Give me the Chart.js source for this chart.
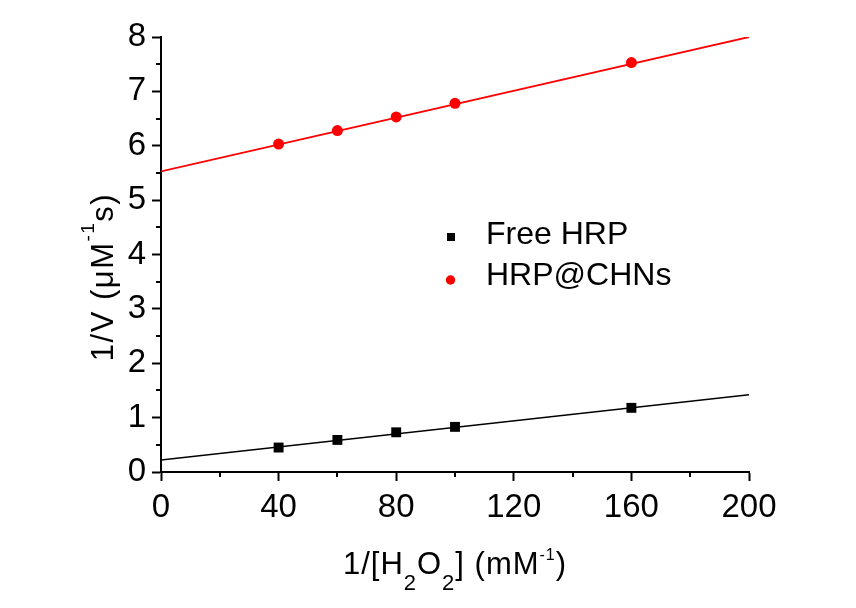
<!DOCTYPE html>
<html>
<head>
<meta charset="utf-8">
<script src="https://cdn.jsdelivr.net/npm/chart.js@4"></script>
<style>
  body { margin: 0; background: #fff; }
</style>
</head>
<body>
<canvas id="chart" width="856" height="608"></canvas>
<script>
const concentrations = [40, 60, 80, 100, 160];
const freeHRP = [0.45, 0.59, 0.73, 0.83, 1.18];
const hrpCHNs = [6.03, 6.28, 6.53, 6.78, 7.53];

// linear fit lines, end points
const fitX = [0, 200];
const fitFree = [0.22, 1.42];
const fitCHNs = [5.53, 8.0];

const seriesNames = ['Free HRP', 'HRP@CHNs'];
const xTicks = [0, 40, 80, 120, 160, 200];
const yTicks = [0, 1, 2, 3, 4, 5, 6, 7, 8];
const xMinor = [20, 60, 100, 140, 180];
const yMinor = [0.5, 1.5, 2.5, 3.5, 4.5, 5.5, 6.5, 7.5];

const FONT = '"Liberation Sans", Arial, sans-serif';

function pts(xs, ys) {
    return xs.map((x, i) => ({ x: x, y: ys[i] }));
}

// draw a string made of normal / sub / sup pieces, centred on x
function drawRich(ctx, parts, x, y, opt) {
    const fontFor = t => (t === 'n' ? opt.main : t === 'sub' ? opt.sub : opt.sup) + 'px ' + FONT;
    ctx.letterSpacing = opt.spacing + 'px';
    let total = 0;
    parts.forEach(p => {
        ctx.font = fontFor(p[1]);
        total += ctx.measureText(p[0]).width;
    });
    let cx = x - total / 2;
    parts.forEach(p => {
        ctx.font = fontFor(p[1]);
        let dy = 0;
        if (p[1] === 'sub') dy = opt.subDy;
        if (p[1] === 'sup') dy = opt.supDy;
        ctx.fillText(p[0], cx, y + dy);
        cx += ctx.measureText(p[0]).width;
    });
    ctx.letterSpacing = '0px';
}

const extras = {
    id: 'extras',
    afterDraw(chart) {
        const ctx = chart.ctx;
        const xs = chart.scales.x;
        const ys = chart.scales.y;
        const area = chart.chartArea;
        ctx.save();
        // minor ticks
        ctx.strokeStyle = '#000';
        ctx.lineWidth = 2;
        ctx.beginPath();
        xMinor.forEach(v => {
            const px = Math.round(xs.getPixelForValue(v));
            ctx.moveTo(px, area.bottom);
            ctx.lineTo(px, area.bottom + 5);
        });
        yMinor.forEach(v => {
            const py = Math.round(ys.getPixelForValue(v));
            ctx.moveTo(area.left, py);
            ctx.lineTo(area.left - 5, py);
        });
        ctx.stroke();

        // axis titles
        ctx.fillStyle = '#000';
        ctx.textBaseline = 'alphabetic';
        ctx.textAlign = 'left';
        drawRich(ctx, [['1/[H', 'n'], ['2', 'sub'], ['O', 'n'], ['2', 'sub'], ['] (mM', 'n'], ['-1', 'sup'], [')', 'n']],
            (area.left + area.right) / 2, 574,
            { main: 31, sub: 22, sup: 16, subDy: 16, supDy: -14, spacing: 1 });
        ctx.save();
        ctx.translate(113, 277);
        ctx.rotate(-Math.PI / 2);
        drawRich(ctx, [['1/V (\u03bcM', 'n'], ['-1', 'sup'], ['s)', 'n']], 0, 0,
            { main: 31, sub: 22, sup: 19, subDy: 16, supDy: -19, spacing: 1.5 });
        ctx.restore();

        // legend
        ctx.font = '32px ' + FONT;
        ctx.textBaseline = 'alphabetic';
        ctx.fillStyle = '#000';
        ctx.fillRect(447, 233, 8, 8);
        ctx.fillText(seriesNames[0], 486, 244);
        ctx.fillStyle = '#ff0000';
        ctx.beginPath();
        ctx.arc(450.5, 280, 4.7, 0, Math.PI * 2);
        ctx.fill();
        ctx.fillStyle = '#000';
        ctx.fillText(seriesNames[1], 486, 285);
        ctx.restore();
    }
};

const chartConfig = {
    type: 'scatter',
    data: {
        datasets: [
            {
                label: 'fit free',
                data: pts(fitX, fitFree),
                showLine: true,
                borderColor: '#000',
                borderWidth: 1.5,
                pointRadius: 0
            },
            {
                label: 'fit chns',
                data: pts(fitX, fitCHNs),
                showLine: true,
                borderColor: '#ff0000',
                borderWidth: 1.8,
                pointRadius: 0
            },
            {
                label: seriesNames[0],
                data: pts(concentrations, freeHRP),
                pointStyle: 'rect',
                pointRadius: 7,
                backgroundColor: '#000',
                borderColor: '#000',
                borderWidth: 0
            },
            {
                label: seriesNames[1],
                data: pts(concentrations, hrpCHNs),
                pointStyle: 'circle',
                pointRadius: 5.5,
                backgroundColor: '#ff0000',
                borderColor: '#ff0000',
                borderWidth: 0
            }
        ]
    },
    options: {
        responsive: false,
        animation: false,
        layout: { padding: { left: 0, right: 107, top: 37, bottom: 0 } },
        plugins: {
            legend: { display: false },
            tooltip: { enabled: false }
        },
        scales: {
            x: {
                type: 'linear',
                min: 0,
                max: 200,
                afterBuildTicks: s => { s.ticks = xTicks.map(v => ({ value: v })); },
                afterFit: s => { s.height = 136; },
                grid: { drawOnChartArea: false, tickLength: 9, tickWidth: 2, tickColor: '#000' },
                border: { color: '#000', width: 2 },
                ticks: { color: '#000', font: { family: FONT, size: 33 }, padding: 7, maxRotation: 0 }
            },
            y: {
                type: 'linear',
                min: 0,
                max: 8,
                afterBuildTicks: s => { s.ticks = yTicks.map(v => ({ value: v })); },
                afterFit: s => { s.width = 161; },
                grid: { drawOnChartArea: false, tickLength: 9, tickWidth: 2, tickColor: '#000' },
                border: { color: '#000', width: 2 },
                ticks: { color: '#000', font: { family: FONT, size: 33 }, padding: 6 }
            }
        }
    },
    plugins: [extras]
};

new Chart(document.getElementById('chart').getContext('2d'), chartConfig);
</script>
</body>
</html>
